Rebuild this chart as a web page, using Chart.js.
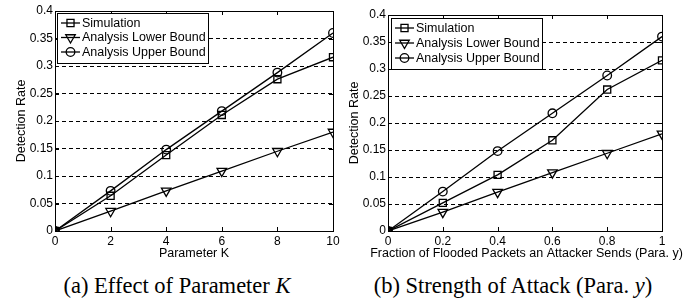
<!DOCTYPE html>
<html>
<head>
<meta charset="utf-8">
<script src="https://cdn.jsdelivr.net/npm/chart.js@4"></script>
<style>
  body { margin: 0; background: #fff; width: 699px; height: 304px; position: relative; overflow: hidden; }
  canvas { position: absolute; top: 0; }
  .caption { position: absolute; top: 273px; font-family: 'Liberation Serif', 'Times New Roman', serif; font-size: 22.5px; white-space: nowrap; transform: translateX(-50%); color: #000; }
</style>
</head>
<body>
<canvas id="chartK" width="345" height="262" style="left:0"></canvas>
<canvas id="chartY" width="354" height="262" style="left:345px"></canvas>
<div class="caption" style="left:177px">(a) Effect of Parameter <i>K</i></div>
<div class="caption" style="left:513px">(b) Strength of Attack (Para. <i>y</i>)</div>
<script>
// series names / markers
const seriesNames = ['Simulation', 'Analysis Lower Bound', 'Analysis Upper Bound'];

// (a) detection rate vs parameter K
const kValues = [0, 2, 4, 6, 8, 10];
const kSimulation = [0, 0.064, 0.138, 0.211, 0.276, 0.316];
const kLowerBound = [0, 0.036, 0.073, 0.109, 0.145, 0.180];
const kUpperBound = [0, 0.073, 0.148, 0.218, 0.288, 0.360];

// (b) detection rate vs fraction of flooded packets (para. y)
const yValues = [0, 0.2, 0.4, 0.6, 0.8, 1];
const ySimulation = [0, 0.052, 0.104, 0.168, 0.262, 0.316];
const yLowerBound = [0, 0.035, 0.072, 0.108, 0.144, 0.180];
const yUpperBound = [0, 0.073, 0.148, 0.218, 0.288, 0.360];

// tick labels
const rateTicks = ['0', '0.05', '0.1', '0.15', '0.2', '0.25', '0.3', '0.35', '0.4'];
const kTicks = ['0', '2', '4', '6', '8', '10'];
const yTicks = ['0', '0.2', '0.4', '0.6', '0.8', '1'];

const FONT = "'Liberation Sans', Arial, sans-serif";
Chart.defaults.font.family = FONT;
Chart.defaults.font.size = 12;
Chart.defaults.color = '#000';

const markers = [
  { pointStyle: 'rect', radius: 5, rotation: 0 },
  { pointStyle: 'triangle', radius: 5.5, rotation: 180 },
  { pointStyle: 'circle', radius: 4.3, rotation: 0 }
];

function makeSets(xs, lists) {
  return lists.map((vals, i) => ({
    label: seriesNames[i],
    data: xs.map((x, j) => ({ x: x, y: vals[j] })),
    borderColor: '#000',
    borderWidth: 1.3,
    backgroundColor: 'rgba(0,0,0,0)',
    pointStyle: markers[i].pointStyle,
    pointRadius: markers[i].radius,
    pointRotation: markers[i].rotation,
    pointBorderColor: '#000',
    pointBackgroundColor: 'rgba(0,0,0,0)',
    pointBorderWidth: 1.3,
    tension: 0
  }));
}

function drawMarker(ctx, m, x, y) {
  if (Chart.helpers && Chart.helpers.drawPoint) {
    Chart.helpers.drawPoint(ctx, { pointStyle: m.pointStyle, radius: m.radius, rotation: m.rotation, borderWidth: 1.3 }, x, y);
    return;
  }
  ctx.beginPath();
  ctx.arc(x, y, m.radius, 0, Math.PI * 2);
  ctx.stroke();
}

// matlab-style box, inward ticks, x title and the legend inside the plot
const boxPlugin = {
  id: 'boxLegend',
  afterDraw(chart, args, opts) {
    const ctx = chart.ctx;
    const a = chart.chartArea;
    ctx.save();
    ctx.strokeStyle = '#000';
    ctx.lineWidth = 1;
    ctx.setLineDash([]);
    ctx.strokeRect(a.left + 0.5, a.top + 0.5, a.right - a.left, a.bottom - a.top);
    const t = 4;
    ctx.beginPath();
    chart.scales.x.ticks.forEach(tk => {
      const px = Math.round(chart.scales.x.getPixelForValue(tk.value)) + 0.5;
      ctx.moveTo(px, a.bottom); ctx.lineTo(px, a.bottom - t);
      ctx.moveTo(px, a.top); ctx.lineTo(px, a.top + t);
    });
    chart.scales.y.ticks.forEach(tk => {
      const py = Math.round(chart.scales.y.getPixelForValue(tk.value)) + 0.5;
      ctx.moveTo(a.left, py); ctx.lineTo(a.left + t, py);
      ctx.moveTo(a.right, py); ctx.lineTo(a.right - t, py);
    });
    ctx.stroke();

    // x axis title (drawn here so it is not squeezed to the plot width)
    ctx.font = '12.5px ' + FONT;
    ctx.fillStyle = '#000';
    ctx.textAlign = 'center';
    ctx.textBaseline = 'alphabetic';
    ctx.fillText(opts.xTitle, (a.left + a.right) / 2 + opts.xtDx, opts.xtY);

    // legend
    const names = chart.data.datasets.map(d => d.label);
    const tw = Math.max(...names.map(n => ctx.measureText(n).width));
    const bx = a.left + opts.dx, by = a.top + opts.dy;
    const bw = tw + 27, bh = opts.row * names.length + 6;
    ctx.fillStyle = '#fff';
    ctx.fillRect(bx, by, bw, bh);
    ctx.lineWidth = 1;
    ctx.strokeRect(Math.round(bx) + 0.5, Math.round(by) + 0.5, Math.round(bw), Math.round(bh));
    names.forEach((n, i) => {
      const cy = by + 10 + i * opts.row;
      ctx.strokeStyle = '#000';
      ctx.lineWidth = 1.3;
      ctx.beginPath();
      ctx.moveTo(bx + 4, cy); ctx.lineTo(bx + 23, cy);
      ctx.stroke();
      ctx.fillStyle = 'rgba(0,0,0,0)';
      drawMarker(ctx, markers[i], bx + 13.5, cy);
      ctx.fillStyle = '#000';
      ctx.textBaseline = 'middle';
      ctx.textAlign = 'left';
      ctx.fillText(n, bx + 25, cy + 0.5);
    });
    ctx.restore();
  }
};

function makeChart(id, xs, lists, xMax, xStep, xLabels, xTitle, geo) {
  return new Chart(document.getElementById(id), {
    type: 'line',
    data: { datasets: makeSets(xs, lists) },
    plugins: [boxPlugin],
    options: {
      responsive: false,
      animation: false,
      layout: { padding: { left: 0, top: geo.top, right: geo.right, bottom: 0 } },
      plugins: {
        legend: { display: false },
        tooltip: { enabled: false },
        boxLegend: { dx: geo.ldx, dy: geo.ldy, row: geo.row, xTitle: xTitle, xtY: geo.xtY, xtDx: geo.xtDx }
      },
      scales: {
        x: {
          type: 'linear', min: 0, max: xMax,
          grid: { display: false, drawTicks: false },
          border: { display: false },
          ticks: { stepSize: xStep, padding: 3, maxRotation: 0, font: { size: 12 },
            callback: (v, i) => xLabels[i] },
          afterFit: s => { s.height = geo.xh; s.paddingLeft = 0; s.paddingRight = 0; }
        },
        y: {
          type: 'linear', min: 0, max: 0.4,
          grid: {
            drawTicks: false, lineWidth: 1,
            color: c => (c.index === 0 || c.index === rateTicks.length - 1) ? 'rgba(0,0,0,0)' : '#000'
          },
          border: { display: false, dash: [4, 3] },
          ticks: { stepSize: 0.05, padding: 2, font: { size: 12 },
            callback: (v, i) => rateTicks[i] },
          title: { display: true, text: 'Detection Rate', font: { size: 12.5 }, padding: { top: geo.ytPad, bottom: 0 } },
          afterFit: s => { s.width = geo.yw; s.paddingTop = 0; s.paddingBottom = 0; }
        }
      }
    }
  });
}

makeChart('chartK', kValues, [kSimulation, kLowerBound, kUpperBound], 10, 2, kTicks, 'Parameter K',
  { top: 11, right: 12, yw: 55, xh: 31, ytPad: 14, ldx: 2, ldy: 2, row: 14.5, xtY: 257, xtDx: 0 });
makeChart('chartY', yValues, [ySimulation, yLowerBound, yUpperBound], 1, 0.2, yTicks,
  'Fraction of Flooded Packets an Attacker Sends (Para. y)',
  { top: 15, right: 37, yw: 43, xh: 31, ytPad: 2, ldx: 3, ldy: 3, row: 15, xtY: 257, xtDx: 1.5 });
</script>
</body>
</html>
